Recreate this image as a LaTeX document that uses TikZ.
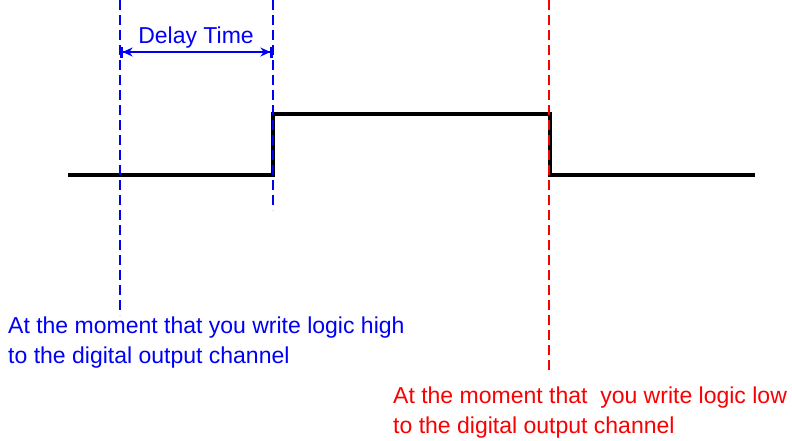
\documentclass[tikz,border=0pt]{standalone}
\usepackage{fontspec}
\setmainfont{Liberation Sans}
\usetikzlibrary{arrows.meta,positioning}
\definecolor{markblue}{RGB}{0,0,245}
\definecolor{markred}{RGB}{250,0,0}
\tikzset{
  signal/.style={line width=3.2pt, line join=miter},
  marker/.style={line width=2.8pt, dash pattern=on 10pt off 5pt},
  note/.style={anchor=base west, align=left, inner sep=0pt,
    font=\fontsize{23}{30}\selectfont}
}
\begin{document}
\begin{tikzpicture}[x=1pt, y=-1pt]
  \useasboundingbox (0,0) rectangle (792,440);
  % waveform
  \coordinate (s0) at (68,175);
  \coordinate (s1) at (273,175);
  \coordinate (s2) at (273,114);
  \coordinate (s3) at (550,114);
  \coordinate (s4) at (550,175);
  \coordinate (s5) at (755,175);
  \draw[signal] (s0) -- (s1) -- (s2) -- (s3) -- (s4) -- (s5);
  % markers
  \coordinate (wtop) at (120,0);
  \coordinate (wbot) at (120,315);
  \coordinate (otop) at (273,0);
  \coordinate (obot) at (273,210);
  \coordinate (ltop) at (549,0);
  \coordinate (lbot) at (549,370);
  \draw[marker, markblue] (wtop) -- (wbot);
  \draw[marker, markblue] (otop) -- (obot);
  \draw[marker, markred] (ltop) -- (lbot);
  % delay
  \coordinate (da) at (120,52);
  \coordinate (db) at (273,52);
  \draw[markblue, line width=2.6pt, {Bar[width=11pt]Stealth[length=10pt,width=9pt]}-{Stealth[length=10pt,width=9pt]Bar[width=11pt]}]
    (da) -- (db);
  \node[anchor=base, inner sep=0pt, text=markblue, font=\fontsize{23}{26}\selectfont] (delay) at (196,43) {Delay Time};
  % notes (base is the last line)
  \node[note, text=markblue] (high) at (8,363)
    {At the moment that you write logic high\\to the digital output channel};
  \node[note, text=markred] (low) at (393,433)
    {At the moment that\ \ you write logic low\\to the digital output channel};
\end{tikzpicture}
\end{document}
